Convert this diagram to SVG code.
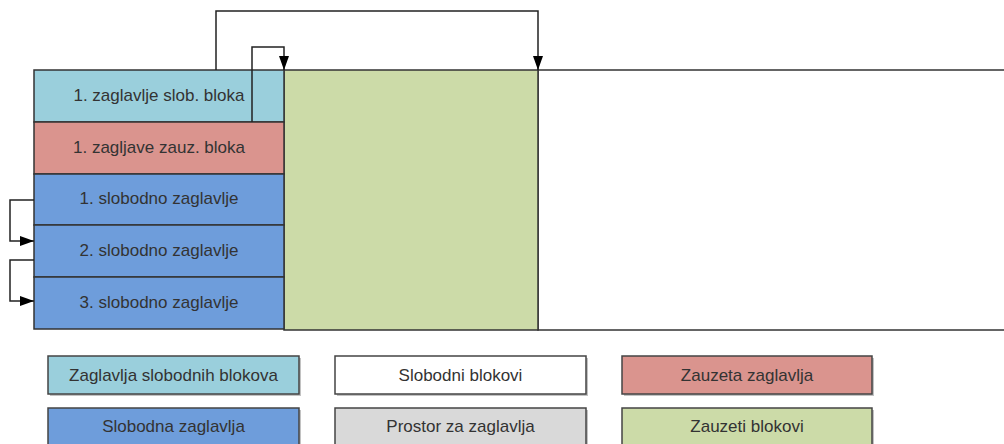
<svg xmlns="http://www.w3.org/2000/svg" width="1004" height="444" viewBox="0 0 1004 444">
<style>
.box{stroke:#333;stroke-width:1.5}
.lg{stroke:#444;stroke-width:1.5}
.sh{fill:#999;opacity:0.6}
.t{font-family:"Liberation Sans",Arial,sans-serif;font-size:17px;fill:#333;text-anchor:middle}
.c{fill:none;stroke:#222;stroke-width:1.5}
</style>
<defs>
<marker id="ah" viewBox="0 0 14 10" refX="14" refY="5" markerWidth="14" markerHeight="10" markerUnits="userSpaceOnUse" orient="auto">
<path d="M0,0 L14,5 L0,10 z" fill="#000"/>
</marker>
</defs>
<rect width="1004" height="444" fill="#fff"/>
<g id="free-space">
<rect x="538" y="70" width="480" height="260" fill="#fff" class="box"/>
</g>
<g id="used-blocks">
<rect x="284" y="70" width="254" height="260" fill="#ccdba8" class="box"/>
</g>
<g id="h1">
<rect x="34" y="70" width="250" height="52" fill="#9acfdc" class="box"/>
<text class="t" x="159" y="101">1. zaglavlje slob. bloka</text>
</g>
<g id="h2">
<rect x="34" y="122" width="250" height="52" fill="#da948e" class="box"/>
<text class="t" x="159" y="153">1. zagljave zauz. bloka</text>
</g>
<g id="h3">
<rect x="34" y="174" width="250" height="51" fill="#6e9ddb" class="box"/>
<text class="t" x="159" y="204">1. slobodno zaglavlje</text>
</g>
<g id="h4">
<rect x="34" y="225" width="250" height="52" fill="#6e9ddb" class="box"/>
<text class="t" x="159" y="256">2. slobodno zaglavlje</text>
</g>
<g id="h5">
<rect x="34" y="277" width="250" height="52" fill="#6e9ddb" class="box"/>
<text class="t" x="159" y="308">3. slobodno zaglavlje</text>
</g>
<g id="connectors">
<path class="c" d="M216,70 V11 H538 V70" marker-end="url(#ah)"/>
<path class="c" d="M252,122 V47 H284 V70" marker-end="url(#ah)"/>
<path class="c" d="M34,200 H10 V241 H34" marker-end="url(#ah)"/>
<path class="c" d="M34,260 H10 V301 H34" marker-end="url(#ah)"/>
</g>
<g id="legend1">
<rect class="sh" x="50" y="358" width="251" height="38"/>
<rect x="48" y="356" width="251" height="38" fill="#9acfdc" class="lg"/>
<text class="t" x="173.5" y="381">Zaglavlja slobodnih blokova</text>
</g>
<g id="legend2">
<rect class="sh" x="337" y="358" width="251" height="38"/>
<rect x="335" y="356" width="251" height="38" fill="#fff" class="lg"/>
<text class="t" x="460.5" y="381">Slobodni blokovi</text>
</g>
<g id="legend3">
<rect class="sh" x="624" y="358" width="250" height="38"/>
<rect x="622" y="356" width="250" height="38" fill="#da948e" class="lg"/>
<text class="t" x="747" y="381">Zauzeta zaglavlja</text>
</g>
<g id="legend4">
<rect class="sh" x="50" y="410" width="251" height="38"/>
<rect x="48" y="408" width="251" height="38" fill="#6e9ddb" class="lg"/>
<text class="t" x="173.5" y="432">Slobodna zaglavlja</text>
</g>
<g id="legend5">
<rect class="sh" x="337" y="410" width="251" height="38"/>
<rect x="335" y="408" width="251" height="38" fill="#d9d9d9" class="lg"/>
<text class="t" x="460.5" y="432">Prostor za zaglavlja</text>
</g>
<g id="legend6">
<rect class="sh" x="624" y="410" width="250" height="38"/>
<rect x="622" y="408" width="250" height="38" fill="#ccdba8" class="lg"/>
<text class="t" x="747" y="432">Zauzeti blokovi</text>
</g>
</svg>
